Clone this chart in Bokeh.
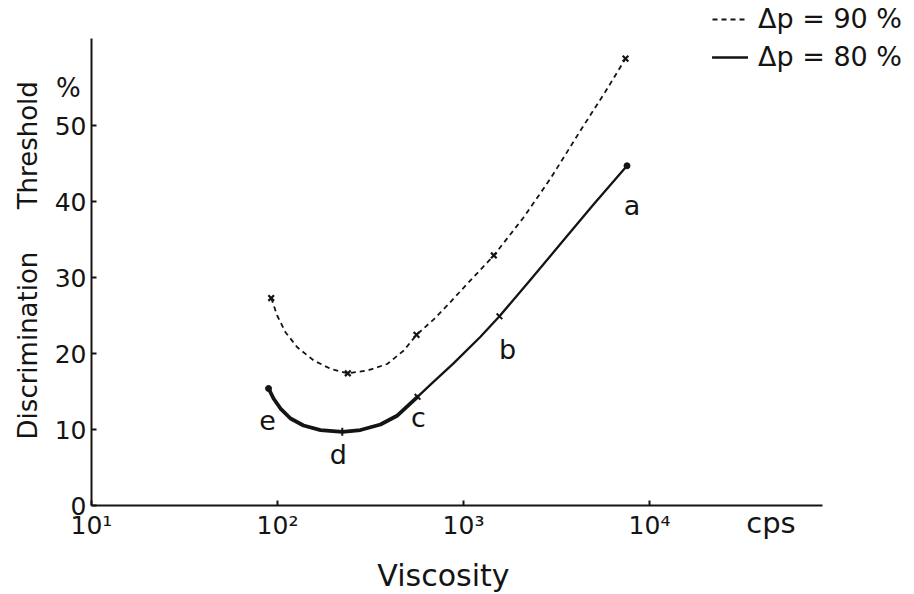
import math

from bokeh.core.properties import value
from bokeh.embed import file_html
from bokeh.models import ColumnDataSource, FixedTicker, Legend, LegendItem, Range1d
from bokeh.plotting import figure
from bokeh.resources import INLINE

FONT = "DejaVu Sans"
INK = "#141414"

# Δp = 80 % : discrimination threshold (%) against viscosity (cps), along the curve
visc_80 = [89.5, 95.2, 103.8, 117.5, 138.0, 170.3, 223, 279.4, 357.9, 441.8, 566,
           664.6, 883.5, 1234, 1561, 2292, 3449, 4999, 7570]
thr_80 = [15.4, 14.08, 12.76, 11.45, 10.53, 9.93, 9.7, 9.93, 10.66, 11.85, 14.3,
          15.9, 18.7, 22.2, 24.9, 29.7, 34.9, 39.6, 44.7]

# Labelled samples a–e on the 80 % curve
pt_names = ["e", "d", "c", "b", "a"]
pt_visc = [89.5, 223, 566, 1561, 7570]
pt_thr = [15.4, 9.7, 14.3, 24.9, 44.7]

# Δp = 90 % curve and its measured points
visc_90 = [92.5, 99.6, 110.4, 127.6, 156.7, 192.7, 238.8, 303.6, 388.9, 477.5, 558.8,
           692.1, 817.4, 1051, 1456, 2102, 2936, 4256, 5799, 7430]
thr_90 = [27.3, 25.0, 22.8, 20.83, 19.08, 17.99, 17.4, 17.76, 18.62, 20.39, 22.45,
          24.5, 26.32, 29.21, 32.9, 37.89, 43.03, 49.34, 54.47, 58.8]
mk_visc_90 = [92.5, 238.8, 558.8, 1456, 7430]
mk_thr_90 = [27.3, 17.4, 22.45, 32.9, 58.8]

x_ticks = [10, 100, 1000, 10000]
x_tick_labels = ["10\u00b9", "10\u00b2", "10\u00b3", "10\u2074"]
y_ticks = [0, 10, 20, 30, 40, 50]

# The frame fills the page; both axes are pinned at the origin (x = 10 cps, y = 0 %)
p = figure(
    width=914, height=594,
    x_axis_type="log",
    x_range=Range1d(10 ** 0.5108, 10 ** 5.4247),
    y_range=Range1d(-11.71, 66.45),
    output_backend="svg", toolbar_location=None,
    min_border_left=0, min_border_bottom=0, min_border_top=0, min_border_right=0,
)
p.outline_line_color = None
p.grid.visible = False
p.background_fill_color = "white"
p.border_fill_color = "white"

xa = p.xaxis[0]
xa.ticker = FixedTicker(ticks=x_ticks, minor_ticks=[])
xa.major_label_overrides = {t: s for t, s in zip(x_ticks, x_tick_labels)}
xa.bounds = (10, 10 ** 4.93)
xa.fixed_location = 0
xa.major_label_standoff = 5
ya = p.yaxis[0]
ya.ticker = FixedTicker(ticks=y_ticks, minor_ticks=[])
ya.bounds = (0, 61.4)
ya.fixed_location = 10
ya.major_label_standoff = 5
for ax in (xa, ya):
    ax.axis_line_width = 2
    ax.axis_line_color = INK
    ax.major_tick_in = 5
    ax.major_tick_out = 0
    ax.major_tick_line_width = 2
    ax.major_tick_line_color = INK
    ax.minor_tick_line_color = None
    ax.major_label_text_font = FONT
    ax.major_label_text_font_size = "25px"
    ax.major_label_text_color = INK

# 80 % curve: heavier stroke on the low-viscosity branch (e to c), lighter beyond c
split = visc_80.index(pt_visc[pt_names.index("c")])
p.line(visc_80[: split + 1], thr_80[: split + 1], line_width=3.8, line_color=INK,
       line_cap="round", line_join="round")
r80 = p.line(visc_80[split:], thr_80[split:], line_width=2.3, line_color=INK,
             line_cap="round", line_join="round")

# 90 % curve, dashed, with x markers at the measured points
r90 = p.line(visc_90, thr_90, line_width=1.8, line_color=INK, line_dash="5 4", line_join="round")
p.scatter(mk_visc_90, mk_thr_90, marker="x", size=8, line_width=2.2, line_color=INK)

# end dots (e, a) and small cross ticks (d, c, b) on the 80 % curve
ends = ColumnDataSource(dict(x=[pt_visc[0], pt_visc[-1]], y=[pt_thr[0], pt_thr[-1]]))
p.scatter("x", "y", source=ends, marker="circle", size=6, fill_color=INK, line_color=INK)
mids = ColumnDataSource(dict(x=pt_visc[1:4], y=pt_thr[1:4],
                             ang=[math.pi / 2, 3 * math.pi / 4, 3 * math.pi / 4]))
p.scatter("x", "y", source=mids, marker="dash", angle="ang", size=8, line_width=2, line_color=INK)

# letters beside the points
letters = ColumnDataSource(dict(
    x=pt_visc, y=pt_thr, t=pt_names,
    dx=[-1, -4, 1, 8, 5], dy=[32, 23, 21, 33, 40],
))
p.text("x", "y", text="t", source=letters, x_offset="dx", y_offset="dy",
       text_font=value(FONT), text_font_size="27px", text_color=INK,
       text_align="center", text_baseline="alphabetic")

# axis titles and units, placed in data coordinates beside the axes
titles = ColumnDataSource(dict(
    x=[4.53, 4.53, 7.52, 780, 45000],
    y=[21.05, 47.4, 54.9, -9.2, -2.25],
    t=["Discrimination", "Threshold", "%", "Viscosity", "cps"],
    a=[math.pi / 2, math.pi / 2, 0, 0, 0],
    s=["26px", "26px", "26px", "30px", "29px"],
))
p.text("x", "y", text="t", angle="a", text_font_size="s", source=titles,
       text_font=value(FONT), text_color=INK, text_align="center", text_baseline="middle")

legend = Legend(
    items=[LegendItem(label="\u0394p = 90 %", renderers=[r90]),
           LegendItem(label="\u0394p = 80 %", renderers=[r80])],
    location=(712, 522),
    glyph_width=36, glyph_height=30, label_standoff=10, spacing=7,
    padding=0, margin=0,
    label_text_font=FONT, label_text_font_size="27px", label_text_color=INK,
    background_fill_alpha=0, border_line_color=None,
)
p.add_layout(legend)

open("out.html", "w").write(file_html(p, INLINE))
